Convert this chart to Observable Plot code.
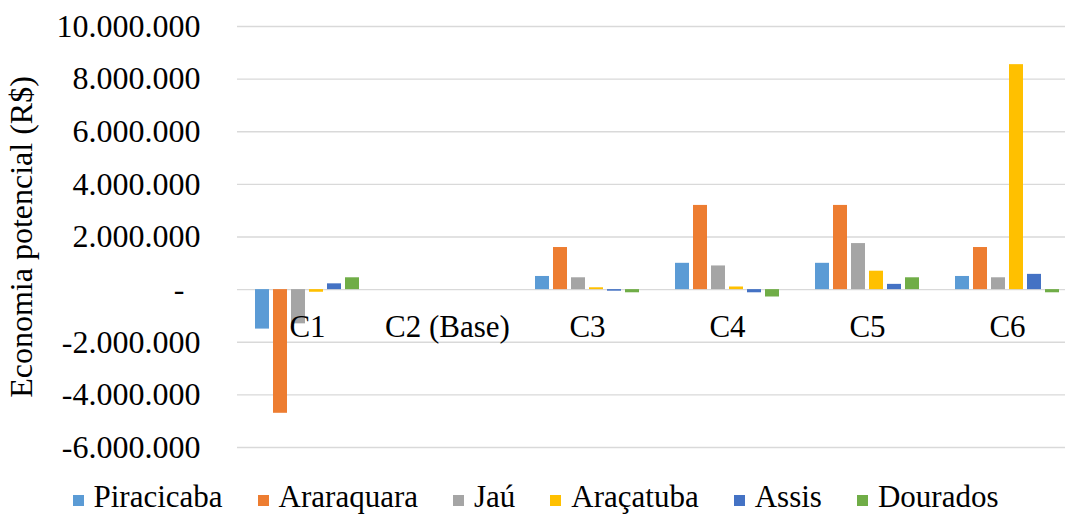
<!DOCTYPE html>
<html>
<head>
<meta charset="utf-8">
<script src="https://cdn.jsdelivr.net/npm/d3@7"></script>
<script src="https://cdn.jsdelivr.net/npm/@observablehq/plot@0.6"></script>
<style>
  body { margin: 0; background: #fff; }
  #chart { width: 1065px; }
  #chart svg text { font-family: "Liberation Serif", "Times New Roman", serif; }
  .legend {
    box-sizing: border-box;
    display: flex; justify-content: center; align-items: center;
    font-family: "Liberation Serif", "Times New Roman", serif; font-size: 31px; line-height: 36px;
    color: #000; height: 48px; gap: 35px; padding-top: 6px; padding-left: 6px;
  }
  .legend span.item { display: flex; align-items: center; }
  .legend i { display: inline-block; width: 11px; height: 11px; margin-right: 10px; margin-top: 6px; }
</style>
</head>
<body>
<div id="chart"></div>
<script>
// Scenarios (x groups) and cities (bars within each group)
const scenarios = ["C1", "C2 (Base)", "C3", "C4", "C5", "C6"];
const cities = ["Piracicaba", "Araraquara", "Jaú", "Araçatuba", "Assis", "Dourados"];
const colors = ["#5B9BD5", "#ED7D31", "#A5A5A5", "#FFC000", "#4472C4", "#70AD47"];

// Potential savings (R$) per city, one value per scenario
const piracicaba = [-1500000, 0, 500000, 1000000, 1000000, 500000];
const araraquara = [-4700000, 0, 1600000, 3200000, 3200000, 1600000];
const jau        = [-1300000, 0, 450000, 900000, 1750000, 450000];
const aracatuba  = [-100000, 0, 70000, 100000, 700000, 8550000];
const assis      = [220000, 0, -60000, -120000, 200000, 580000];
const dourados   = [450000, 0, -120000, -280000, 450000, -120000];

const yTicks = [-6000000, -4000000, -2000000, 0, 2000000, 4000000, 6000000, 8000000, 10000000];

const series = [piracicaba, araraquara, jau, aracatuba, assis, dourados];
const rows = [];
scenarios.forEach((s, i) => {
  cities.forEach((c, j) => rows.push({scenario: s, city: c, value: series[j][i]}));
});

// Brazilian number format: dots as thousands separators, zero shown as a dash
const br = d3.formatLocale({decimal: ",", thousands: ".", grouping: [3], currency: ["R$", ""], minus: "-"});
const fmt = br.format(",d");
const tickFormat = d => d === 0 ? "-\u00a0\u00a0" : fmt(d);

const serif = "Liberation Serif, Times New Roman, serif";

const chart = Plot.plot({
  width: 1065,
  height: 470,
  marginLeft: 237,
  marginRight: -12,
  marginTop: 26,
  marginBottom: 23,
  style: {fontFamily: serif, fontSize: "31px", color: "#000", background: "#fff", overflow: "visible"},
  fx: {domain: scenarios, padding: 0, axis: null},
  x: {domain: cities, axis: null, paddingInner: 0.22, paddingOuter: 0.8},
  y: {domain: [-6000000, 10000000]},
  color: {domain: cities, range: colors},
  marks: [
    Plot.gridY(yTicks, {stroke: "#d9d9d9", strokeOpacity: 1, strokeWidth: 1.3}),
    Plot.barY(rows, {fx: "scenario", x: "city", y: "value", fill: "city"}),
    Plot.text(scenarios, {fx: d => d, y: () => 0, dy: 37, text: d => d, fill: "#000", fontFamily: serif}),
    Plot.axisY(yTicks, {
      tickFormat, tickSize: 0, tickPadding: 37, fontFamily: serif, fontSize: 32,
      label: "Economia potencial (R$)", labelAnchor: "center", labelArrow: "none", labelOffset: 228
    })
  ]
});
document.getElementById("chart").append(chart);

const legend = document.createElement("div");
legend.className = "legend";
cities.forEach((c, i) => {
  const item = document.createElement("span");
  item.className = "item";
  const sw = document.createElement("i");
  sw.style.background = colors[i];
  item.append(sw, document.createTextNode(c));
  legend.append(item);
});
document.getElementById("chart").append(legend);
</script>
</body>
</html>
